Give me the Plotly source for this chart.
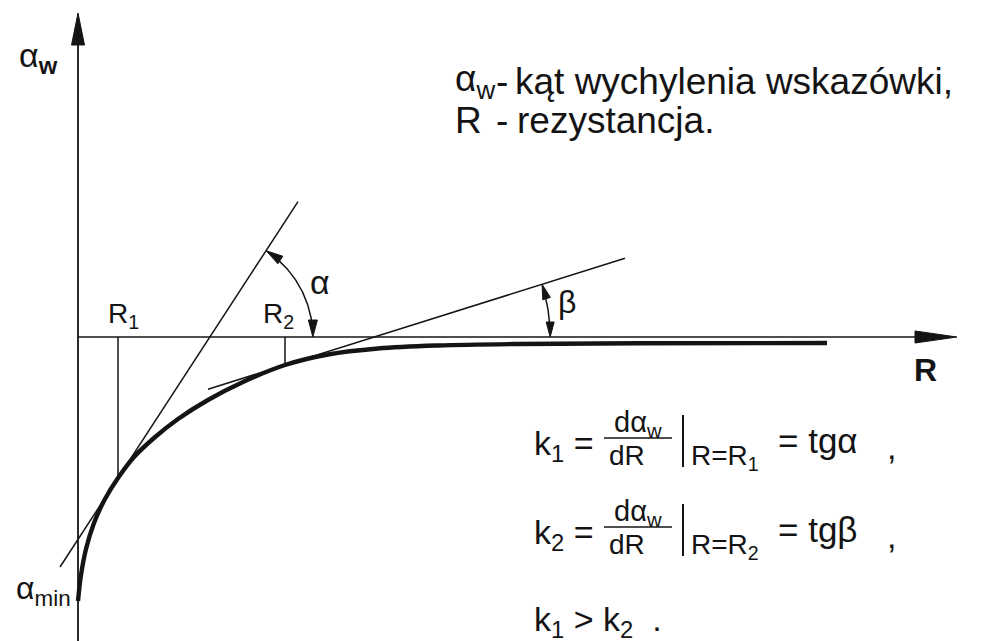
import numpy as np
import plotly.graph_objects as go

# Ohmmeter scale characteristic: needle deflection alpha_w versus resistance R
R_curve = [0.00, 0.03, 0.08, 0.16, 0.27, 0.40, 0.56, 0.76, 1.00, 1.30, 1.65, 2.07,
           2.50, 3.00, 3.60, 4.40, 5.60, 7.49]
alpha_curve = [-2.64, -2.38, -2.12, -1.86, -1.62, -1.41, -1.20, -1.01, -0.82, -0.63,
               -0.45, -0.28, -0.175, -0.115, -0.085, -0.07, -0.063, -0.06]

# points of tangency and the slopes of the tangents there
R1, alpha_R1, k1 = 0.40, -1.41, 1.535
R2, alpha_R2, k2 = 2.07, -0.28, 0.314
tangent1_R = [-0.18, 2.20]
tangent2_R = [1.30, 5.47]

INK = "#141414"
FONT = "Arial, Liberation Sans, sans-serif"

X_RANGE = [-0.78, 9.11]
Y_RANGE = [-3.04, 3.37]

fig = go.Figure()


def line(xs, ys, width=1.6, color=INK):
    fig.add_trace(go.Scatter(x=list(xs), y=list(ys), mode="lines",
                             line=dict(color=color, width=width),
                             hoverinfo="skip", showlegend=False))


def head(tip, direction, length, half_width):
    """Filled triangular arrowhead whose point sits at `tip`."""
    d = np.asarray(direction, float)
    d /= np.hypot(*d)
    n = np.array([-d[1], d[0]])
    tip = np.asarray(tip, float)
    base = tip - d * length
    pts = [tip, base + n * half_width, base - n * half_width, tip]
    fig.add_trace(go.Scatter(x=[p[0] for p in pts], y=[p[1] for p in pts],
                             mode="lines", fill="toself", fillcolor=INK,
                             line=dict(color=INK, width=1),
                             hoverinfo="skip", showlegend=False))


# coordinate axes with arrowheads
v_tip, h_tip = 3.24, 8.79
line([0, 0], [Y_RANGE[0], v_tip - 0.3], width=1.8)
head((0, v_tip), (0, 1), 0.32, 0.065)
line([0, h_tip - 0.4], [0, 0], width=1.6)
head((h_tip, 0), (1, 0), 0.42, 0.06)

# tangent lines at R1 and R2
t1 = np.array(tangent1_R)
line(t1, alpha_R1 + k1 * (t1 - R1), width=1.5)
t2 = np.array(tangent2_R)
line(t2, alpha_R2 + k2 * (t2 - R2), width=1.5)

# ordinates at R1 and R2
line([R1, R1], [0, alpha_R1], width=1.5)
line([R2, R2], [0, alpha_R2], width=1.5)

# characteristic curve
fig.add_trace(go.Scatter(x=R_curve, y=alpha_curve, mode="lines",
                         line=dict(color=INK, width=4.4, shape="spline", smoothing=1.0),
                         hoverinfo="skip", showlegend=False))


def angle_arc(R_tan, a_tan, slope, radius, head_len, head_w):
    cx = R_tan - a_tan / slope
    theta = np.arctan(slope)
    th = np.linspace(0.06, theta - 0.06 * (1.0 / radius), 60)
    line(cx + radius * np.cos(th), radius * np.sin(th), width=1.5)
    head((cx + radius, 0), (0, -1), head_len, head_w)
    head((cx + radius * np.cos(theta), radius * np.sin(theta)),
         (-np.sin(theta), np.cos(theta)), head_len, head_w)


angle_arc(R1, alpha_R1, k1, 1.03, 0.17, 0.045)
angle_arc(R2, alpha_R2, k2, 1.76, 0.15, 0.04)

ann = []


def text(x, y, s, size, xanchor="left", yanchor="middle"):
    ann.append(dict(x=x, y=y, text=s, showarrow=False, xref="x", yref="y",
                    xanchor=xanchor, yanchor=yanchor,
                    font=dict(family=FONT, size=size, color=INK)))


# axis labels
text(-0.61, 2.80, "α<sub><b>w</b></sub>", 34)
text(-0.05, -2.53, "α<sub>min</sub>", 32, xanchor="right")
text(8.47, -0.33, "<b>R</b>", 32, xanchor="center")
text(0.28, 0.22, "R<sub>1</sub>", 28)
text(1.83, 0.22, "R<sub>2</sub>", 28)
text(2.42, 0.55, "α", 34, xanchor="center")
text(4.89, 0.35, "β", 32, xanchor="center")

# legend of symbols
text(3.75, 2.56, "α<sub>w</sub>", 37)
text(4.24, 2.56, "-", 37, xanchor="center")
text(4.35, 2.56, "kąt wychylenia wskazówki,", 37)
text(3.75, 2.17, "R", 37)
text(4.24, 2.17, "-", 37, xanchor="center")
text(4.37, 2.17, "rezystancja.", 37)

# slope relations
rows = [(-1.08, "1", "α"), (-1.97, "2", "β")]
for yc, idx, ang in rows:
    text(4.54, yc, f"k<sub>{idx}</sub> =", 34)
    text(5.60, yc + 0.21, "dα<sub>w</sub>", 29, xanchor="center")
    text(5.49, yc - 0.10, "dR", 28, xanchor="center")
    text(6.11, yc - 0.12, f"R=R<sub>{idx}</sub>", 28)
    text(6.98, yc + 0.05, f"= tg{ang}", 35)
    text(8.07, yc - 0.02, ",", 34)
    fig.add_shape(type="line", x0=5.26, x1=5.94, y0=yc + 0.07, y1=yc + 0.07,
                  line=dict(color=INK, width=1.6))
    fig.add_shape(type="line", x0=6.05, x1=6.05, y0=yc + 0.30, y1=yc - 0.22,
                  line=dict(color=INK, width=2))

text(4.54, -2.84, "k<sub>1</sub> > k<sub>2</sub>  .", 34)

fig.update_layout(
    width=989, height=641,
    margin=dict(l=0, r=0, t=0, b=0),
    paper_bgcolor="white", plot_bgcolor="white",
    xaxis=dict(range=X_RANGE, visible=False, fixedrange=True),
    yaxis=dict(range=Y_RANGE, visible=False, fixedrange=True),
    annotations=ann,
    showlegend=False,
)

fig.write_html("out.html")
